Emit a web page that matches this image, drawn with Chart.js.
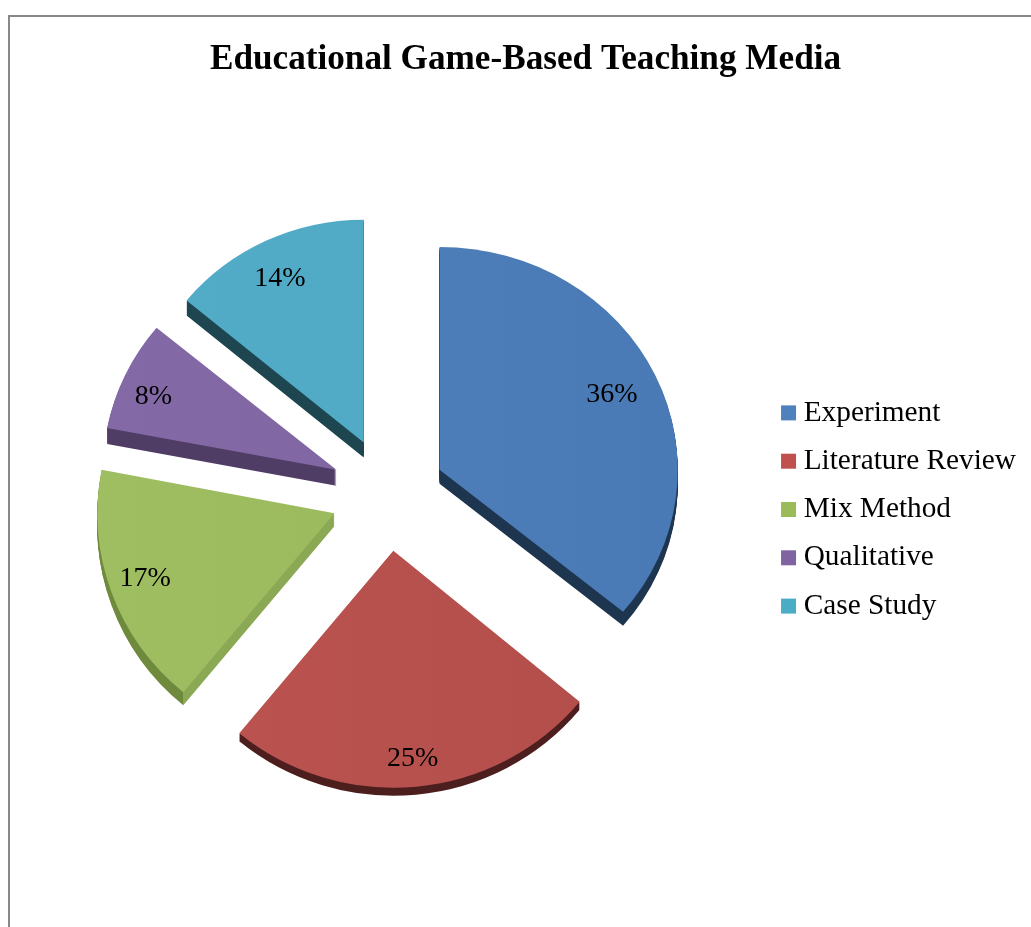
<!DOCTYPE html>
<html>
<head>
<meta charset="utf-8">
<title>Educational Game-Based Teaching Media</title>
<script src="https://cdn.jsdelivr.net/npm/chart.js@4"></script>
<style>
  html, body { margin: 0; background: #fff; overflow: hidden; }
  #frame { position: absolute; left: 8px; top: 15px; right: 0; bottom: 0; border-left: 2px solid #888; border-top: 2px solid #888; }
  canvas { position: absolute; left: 0; top: 0; }
</style>
</head>
<body>
<div id="frame"></div>
<canvas id="pie-chart" width="1031" height="927"></canvas>
<script>
const categories = ['Experiment', 'Literature Review', 'Mix Method', 'Qualitative', 'Case Study'];
const values = [36, 25, 17, 8, 14];

const colors = ['#4f81bd', '#c0504d', '#9bbb59', '#8064a2', '#4bacc6'];
// top face shading, left to right
const faceLight = ['#5181bb', '#bc5450', '#9fbd61', '#8369a5', '#53acc7'];
const faceDark = ['#4a7ab5', '#b24e4b', '#9ab85b', '#7f64a0', '#4fa9c4'];
// the thick edge of each slice
const sideColors = ['#1e3550', '#4d1e1e', '#8ba854', '#503d66', '#1d4650'];
const rimColors = ['#1e3550', '#4d1e1e', '#6f8a3d', '#503d66', '#1d4650'];

const depths = [14, 8, 13, 16, 15];
// the picture is tilted, so slices are not quite round
const squash = [0.94, 1, 0.98, 0.94, 0.94];
const stretch = [1.005, 1.02, 1, 0.985, 0.97];
const labelDist = [0.79, 0.87, 0.84, 0.83, 0.8];
const labelNudgeX = [3, 0, -2, -5, -3];
const labelNudgeY = [0, 3, -1, 6, -3];

const pieCenterX = 388;
const pieCenterY = 494;
const explode = 57;

// where the slice tip sits after pulling it out of the pie
function tipOf(el) {
    const mid = (el.startAngle + el.endAngle) / 2;
    return { x: el.x + Math.cos(mid) * explode, y: el.y + Math.sin(mid) * explode, mid };
}

const tilted3d = {
    id: 'tilted3d',
    afterLayout(chart) {
        // move the pie to its place, legend and title stay where they were fitted
        const area = chart.chartArea;
        const halfW = Math.min(pieCenterX - area.left, area.right - pieCenterX);
        const halfH = Math.min(pieCenterY - area.top, area.bottom - pieCenterY);
        area.left = pieCenterX - halfW;
        area.right = pieCenterX + halfW;
        area.top = pieCenterY - halfH;
        area.bottom = pieCenterY + halfH;
        area.width = halfW * 2;
        area.height = halfH * 2;
        // legend sits lower and further left than the default
        chart.legend.top += 46;
        chart.legend.bottom += 46;
        chart.legend.left -= 5;
        chart.legend.right -= 5;
    },
    beforeDatasetDraw(chart) {
        const ctx = chart.ctx;
        const arcs = chart.getDatasetMeta(0).data;
        arcs.forEach((el, i) => {
            const tip = tipOf(el);
            const baseOptions = el.options;
            const r = el.outerRadius;

            const drawAt = (dy, fill) => {
                ctx.save();
                ctx.translate(tip.x, tip.y + dy);
                ctx.scale(stretch[i], squash[i]);
                ctx.translate(-el.x, -el.y);
                el.options = Object.assign({}, baseOptions, { backgroundColor: fill });
                el.draw(ctx);
                ctx.restore();
            };

            // edge: hard switch from side face to rim at the lower corner
            const cornerX = el.x + Math.cos(el.startAngle) * r;
            const edge = ctx.createLinearGradient(el.x - r, 0, el.x + r, 0);
            const stop = Math.min(1, Math.max(0, (cornerX - el.x + r) / (2 * r)));
            edge.addColorStop(0, rimColors[i]);
            edge.addColorStop(stop, rimColors[i]);
            edge.addColorStop(stop, sideColors[i]);
            edge.addColorStop(1, sideColors[i]);
            for (let d = depths[i]; d >= 1; d--) drawAt(d, edge);

            const face = ctx.createLinearGradient(el.x - r, 0, el.x + r, 0);
            face.addColorStop(0, faceLight[i]);
            face.addColorStop(1, faceDark[i]);
            drawAt(0, face);

            el.options = baseOptions;
        });
        return false;
    },
    afterDatasetsDraw(chart) {
        const ctx = chart.ctx;
        const arcs = chart.getDatasetMeta(0).data;
        ctx.save();
        ctx.fillStyle = '#000';
        ctx.font = '28px "Liberation Serif"';
        ctx.textAlign = 'center';
        ctx.textBaseline = 'middle';
        arcs.forEach((el, i) => {
            const tip = tipOf(el);
            const px = tip.x + Math.cos(tip.mid) * el.outerRadius * labelDist[i];
            const py = tip.y + Math.sin(tip.mid) * el.outerRadius * labelDist[i] * squash[i];
            ctx.fillText(values[i] + '%', px + labelNudgeX[i], py + labelNudgeY[i]);
        });
        ctx.restore();
    }
};

const pieChart = new Chart(document.getElementById('pie-chart').getContext('2d'), {
    type: 'pie',
    data: {
        labels: categories,
        datasets: [{
            data: values,
            backgroundColor: colors,
            borderWidth: 0
        }]
    },
    options: {
        responsive: false,
        animation: false,
        radius: 237,
        layout: { padding: { left: 20 } },
        plugins: {
            title: {
                display: true,
                text: 'Educational Game-Based Teaching Media',
                color: '#000',
                font: { family: '"Liberation Serif"', size: 35.2, weight: 'bold' },
                padding: { top: 39, bottom: 10 }
            },
            legend: {
                position: 'right',
                labels: {
                    color: '#000',
                    font: { family: '"Liberation Serif"', size: 29.3 },
                    padding: 19,
                    boxWidth: 1,
                    boxHeight: 1,
                    // thick stroke gives the square swatch with the narrow gap to the text
                    generateLabels(chart) {
                        return categories.map((name, i) => ({
                            text: name,
                            fillStyle: colors[i],
                            strokeStyle: colors[i],
                            lineWidth: 14,
                            fontColor: '#000',
                            index: i
                        }));
                    }
                }
            },
            tooltip: { enabled: false }
        }
    },
    plugins: [tilted3d]
});
</script>
</body>
</html>
